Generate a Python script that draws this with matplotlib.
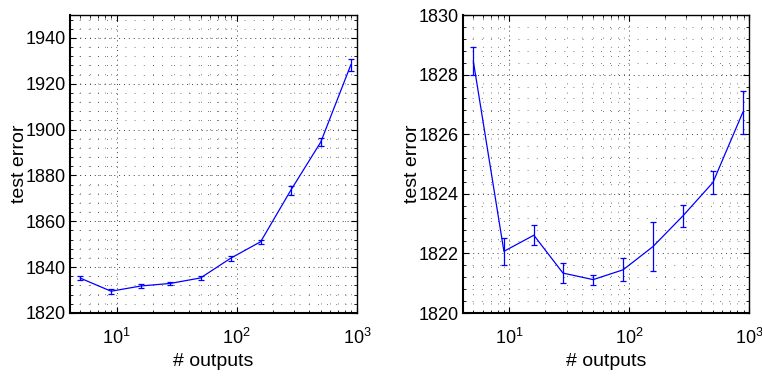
import matplotlib
matplotlib.use("Agg")
import matplotlib.pyplot as plt
from matplotlib.ticker import AutoMinorLocator, LogLocator, NullFormatter, MultipleLocator

plt.rcParams['font.family'] = ['Liberation Sans', 'DejaVu Sans']
plt.rcParams['mathtext.fontset'] = 'custom'
plt.rcParams['mathtext.rm'] = 'Liberation Sans'
plt.rcParams['mathtext.it'] = 'Liberation Sans'

# number of outputs (same for both panels)
outputs = [5, 9, 16, 28, 50, 89, 158, 281, 500, 889]

# left panel
err_left = [1835.2, 1829.5, 1831.8, 1832.9, 1835.3, 1843.9, 1851.1, 1873.5, 1894.6, 1928.3]
sd_left = [1.0, 1.0, 0.7, 0.7, 0.8, 1.0, 0.8, 2.0, 1.8, 2.6]

# right panel
err_right = [1828.45, 1822.07, 1822.61, 1821.34, 1821.12, 1821.45, 1822.23, 1823.26, 1824.38, 1826.74]
sd_right = [0.46, 0.46, 0.33, 0.35, 0.17, 0.38, 0.81, 0.38, 0.37, 0.72]

fig = plt.figure(figsize=(7.62, 3.78), dpi=100)
ax1 = fig.add_axes([70 / 762, 65 / 378, 287 / 762, 298 / 378])
ax2 = fig.add_axes([463 / 762, 65 / 378, 286 / 762, 298 / 378])


def draw(ax, y, e, ylim, ystep):
    ax.errorbar(outputs, y, yerr=e, color='blue', lw=0.9, elinewidth=0.9,
                capsize=2.2, capthick=0.9)
    ax.set_xscale('log')
    ax.set_xlim(4.1, 1000)
    ax.set_ylim(*ylim)
    ax.yaxis.set_major_locator(MultipleLocator(ystep))
    ax.yaxis.set_minor_locator(AutoMinorLocator(5))
    ax.xaxis.set_major_locator(LogLocator(base=10))
    ax.xaxis.set_minor_locator(LogLocator(base=10, subs=range(2, 10)))
    ax.xaxis.set_minor_formatter(NullFormatter())
    ax.grid(True, which='major', ls=(0, (1, 4)), color='0.25', lw=0.7)
    ax.grid(True, which='minor', ls=(0, (1, 10)), color='0.3', lw=0.6)
    ax.tick_params(which='both', direction='in', top=True, right=True, labelsize=13)
    ax.tick_params(which='major', length=4, width=0.8)
    ax.tick_params(which='minor', length=2, width=0.6)
    ax.tick_params(axis='x', pad=11)
    ax.tick_params(axis='y', pad=3)
    for s in ax.spines.values():
        s.set_linewidth(1.0)
    ax.spines['left'].set_linewidth(1.5)
    ax.spines['bottom'].set_linewidth(1.5)
    ax.set_xlabel('# outputs', fontsize=14, labelpad=3)
    ax.set_ylabel('test error', fontsize=14, labelpad=-2)


draw(ax1, err_left, sd_left, (1820, 1950), 20)
draw(ax2, err_right, sd_right, (1820, 1830), 2)

fig.savefig('out.png', dpi=100)
